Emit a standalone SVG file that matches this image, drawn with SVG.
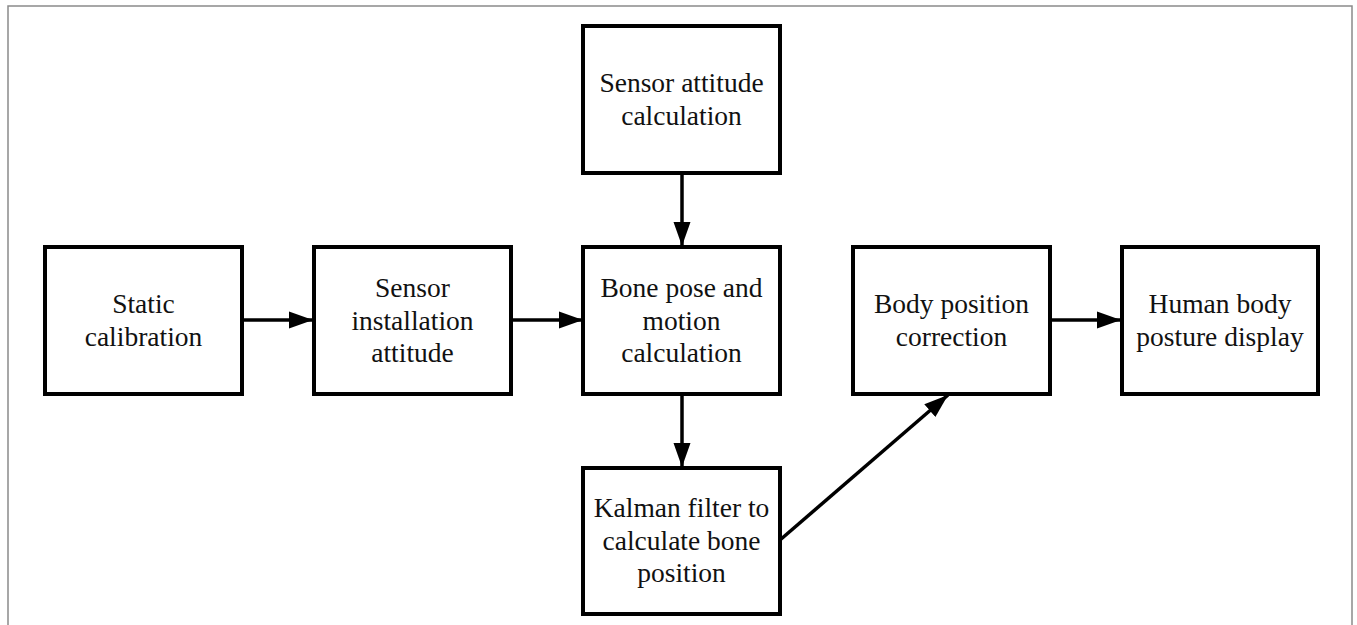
<svg xmlns="http://www.w3.org/2000/svg" width="1357" height="625" viewBox="0 0 1357 625">
<style>
.box{fill:#fff;stroke:#000;stroke-width:4}
.lbl{font-family:"Liberation Serif","Times New Roman",Times,serif;font-size:27.5px;fill:#111;text-anchor:middle}
.con{stroke:#000;stroke-width:3.5;fill:none}
.frame{fill:none;stroke:#8a8a8a;stroke-width:1.5}
</style>
<defs>
<marker id="ah" markerUnits="userSpaceOnUse" markerWidth="26" markerHeight="20" viewBox="0 0 26 20" refX="24" refY="10" orient="auto">
<path d="M0,1.5 L24,10 L0,18.5 Z" fill="#000"/>
</marker>
</defs>
<rect x="0" y="0" width="1357" height="625" fill="#fff"/>
<rect class="frame" x="8" y="6" width="1344" height="640"/>
<g id="connectors">
<line class="con" x1="242" y1="320" x2="313" y2="320" marker-end="url(#ah)"/>
<line class="con" x1="511" y1="320" x2="583" y2="320" marker-end="url(#ah)"/>
<line class="con" x1="1050" y1="320" x2="1121" y2="320" marker-end="url(#ah)"/>
<line class="con" x1="682" y1="173" x2="682" y2="246" marker-end="url(#ah)"/>
<line class="con" x1="682" y1="394" x2="682" y2="467" marker-end="url(#ah)"/>
<line class="con" x1="780" y1="540" x2="948" y2="395" marker-end="url(#ah)"/>
</g>
<g id="static-calibration">
<rect class="box" x="45" y="247" width="197" height="147"/>
<text class="lbl" x="143.5" y="313">Static</text>
<text class="lbl" x="143.5" y="346">calibration</text>
</g>
<g id="sensor-installation">
<rect class="box" x="314" y="247" width="197" height="147"/>
<text class="lbl" x="412.5" y="297">Sensor</text>
<text class="lbl" x="412.5" y="329.5">installation</text>
<text class="lbl" x="412.5" y="362">attitude</text>
</g>
<g id="sensor-attitude">
<rect class="box" x="583" y="26" width="197" height="147"/>
<text class="lbl" x="681.5" y="92">Sensor attitude</text>
<text class="lbl" x="681.5" y="125">calculation</text>
</g>
<g id="bone-pose">
<rect class="box" x="583" y="247" width="197" height="147"/>
<text class="lbl" x="681.5" y="297">Bone pose and</text>
<text class="lbl" x="681.5" y="329.5">motion</text>
<text class="lbl" x="681.5" y="362">calculation</text>
</g>
<g id="kalman">
<rect class="box" x="583" y="468" width="197" height="146"/>
<text class="lbl" x="681.5" y="517">Kalman filter to</text>
<text class="lbl" x="681.5" y="549.5">calculate bone</text>
<text class="lbl" x="681.5" y="582">position</text>
</g>
<g id="body-position">
<rect class="box" x="853" y="247" width="197" height="147"/>
<text class="lbl" x="951.5" y="313">Body position</text>
<text class="lbl" x="951.5" y="346">correction</text>
</g>
<g id="human-body">
<rect class="box" x="1122" y="247" width="196" height="147"/>
<text class="lbl" x="1220" y="313">Human body</text>
<text class="lbl" x="1220" y="346">posture display</text>
</g>
</svg>
